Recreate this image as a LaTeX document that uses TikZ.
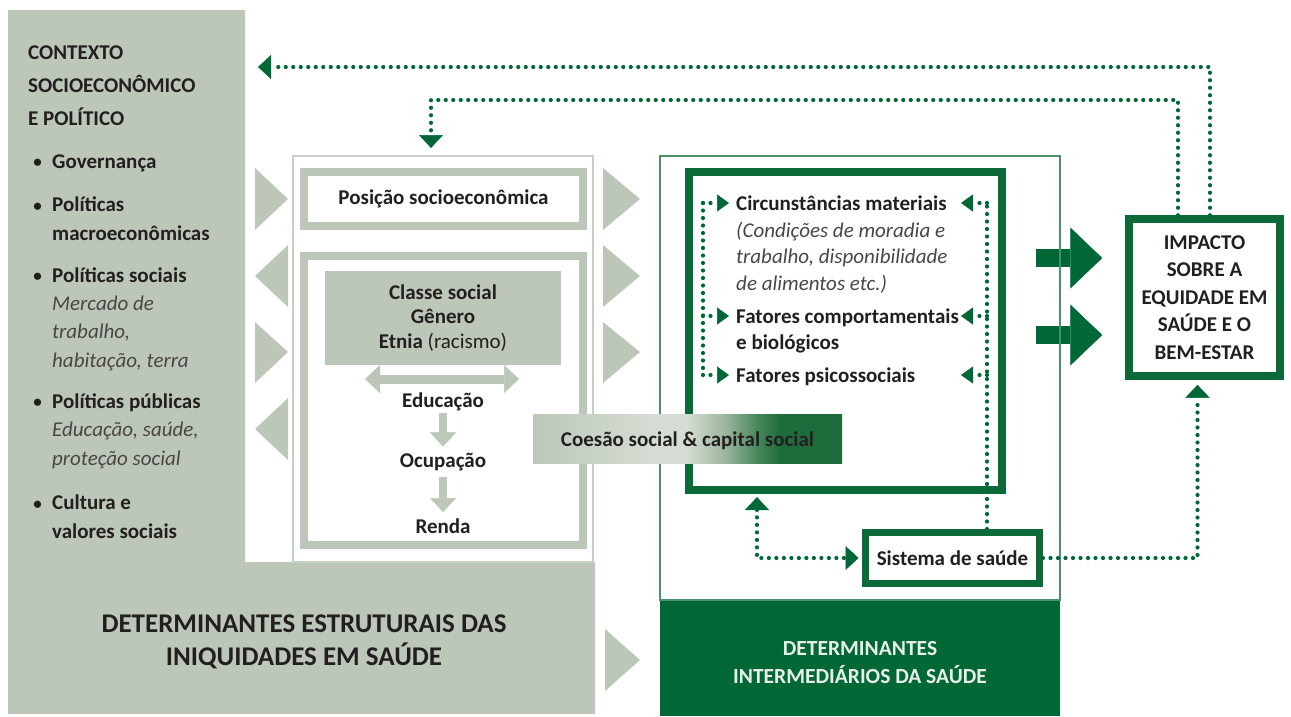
\documentclass[tikz,border=0pt]{standalone}
\usepackage{fontspec}
\setmainfont{Carlito}
\usetikzlibrary{calc, positioning, arrows.meta}
\definecolor{sage}{HTML}{BCC7B9}
\definecolor{sagelight}{HTML}{D5DCD3}
\definecolor{sageline}{HTML}{C6CFC3}
\definecolor{coemid}{HTML}{9DB59F}
\definecolor{coedark}{HTML}{4C8A5E}
\definecolor{coegreen}{HTML}{1E6C3C}
\definecolor{dkgreen}{HTML}{006837}
\definecolor{bdgreen}{HTML}{0C6A38}
\definecolor{thingreen}{HTML}{4A9068}
\definecolor{ink}{HTML}{231F20}
\definecolor{inkgrey}{HTML}{4A4646}
\definecolor{pale}{HTML}{E9EFE8}
\pgfdeclarehorizontalshading{coesao}{100bp}{color(0bp)=(sage); color(25bp)=(sage); color(44bp)=(sagelight); color(50bp)=(sagelight); color(56bp)=(coemid); color(61bp)=(coedark); color(65bp)=(coegreen); color(100bp)=(coegreen)}

\begin{document}
\begin{tikzpicture}
		[x=1pt, y=-1pt,
		txt/.style={inner sep=0pt, text=ink, align=left, font=\bfseries\fontsize{21}{28.5}\selectfont},
		note/.style={inner sep=0pt, text=inkgrey, align=left, font=\itshape\fontsize{21}{28.5}\selectfont},
		title/.style={inner sep=0pt, align=center, font=\bfseries\fontsize{21.5}{28}\selectfont},
		greybox/.style={draw=sage, line width=8pt, fill=white, inner sep=0pt},
		greenbox/.style={draw=bdgreen, line width=8pt, fill=white, inner sep=0pt},
		dots/.style={draw=dkgreen, line width=4.2pt, line cap=round, dash pattern=on 0pt off 7.5pt},
		tipB/.tip={Triangle[width=24pt, length=13pt, line width=0.5pt]},
		tipS/.tip={Triangle[width=17pt, length=12pt, line width=0.5pt]},
		greyarr/.style={draw=sage, line width=9pt},
		bigarr/.style={draw=dkgreen, line width=18pt, -{Triangle[width=61pt, length=32pt, line width=0.5pt]}}]
		\useasboundingbox (0,0) rectangle (1291,716);

		% background %
		\fill[sage] (8,10) -- (245,10) -- (245,562) -- (595,562) -- (595,714) -- (8,714) -- cycle;
		\fill[sage] (255,168) -- (288,199) -- (255,230) -- cycle;
		\fill[sage] (288,245) -- (255,276) -- (288,307) -- cycle;
		\fill[sage] (255,322) -- (288,352) -- (255,383) -- cycle;
		\fill[sage] (288,398) -- (255,429) -- (288,460) -- cycle;
		\fill[sage] (603,168) -- (640,199) -- (603,230) -- cycle;
		\fill[sage] (603,245) -- (640,276) -- (603,307) -- cycle;
		\fill[sage] (603,322) -- (640,352) -- (603,383) -- cycle;
		\fill[sage] (605,629) -- (640,660) -- (605,691) -- cycle;

		% left column (multi-line nodes sit on their last baseline) %
		\node[txt, anchor=base west, font=\bfseries\fontsize{21}{33}\selectfont] (ctx) at (28,125) {CONTEXTO\\SOCIOECONÔMICO\\E POLÍTICO};
		\node[txt, anchor=base west] (gov) at (52,168) {Governança};
		\node[txt, anchor=base west] (pmac) at (52,240) {Políticas\\macroeconômicas};
		\node[txt, anchor=base west] (psoc) at (52,282) {Políticas sociais};
		\node[note, anchor=base west] (psocn) at (52,367) {Mercado de\\trabalho,\\habitação, terra};
		\node[txt, anchor=base west] (ppub) at (52,408) {Políticas públicas};
		\node[note, anchor=base west] (ppubn) at (52,465) {Educação, saúde,\\proteção social};
		\node[txt, anchor=base west] (cult) at (52,538) {Cultura e\\valores sociais};
		\node[txt, anchor=base east, font=\bfseries\fontsize{17}{20}\selectfont] (b1) at (42,167) {•};
		\node[txt, anchor=base east, font=\bfseries\fontsize{17}{20}\selectfont] (b2) at (42,211) {•};
		\node[txt, anchor=base east, font=\bfseries\fontsize{17}{20}\selectfont] (b3) at (42,281) {•};
		\node[txt, anchor=base east, font=\bfseries\fontsize{17}{20}\selectfont] (b4) at (42,407) {•};
		\node[txt, anchor=base east, font=\bfseries\fontsize{17}{20}\selectfont] (b5) at (42,509) {•};
		\node[title, text=ink, font=\bfseries\fontsize{27}{33}\selectfont, anchor=base] (est) at (304,665) {DETERMINANTES ESTRUTURAIS DAS\\INIQUIDADES EM SAÚDE};

		% middle column %
		\node[draw=sageline, line width=2pt, minimum width=300pt, minimum height=406pt, inner sep=0pt] (mid) at (443,359) {};
		\node[greybox, txt, minimum width=279pt, minimum height=54pt] (pos) at (443.5,199) {Posição socioeconômica};
		\node[greybox, minimum width=279pt, minimum height=289pt] (str) at (443.5,400.5) {};
		\node[txt, fill=sage, align=center, minimum width=236pt, minimum height=94pt, font=\bfseries\fontsize{21}{24.5}\selectfont] (cls) at (443,318) {Classe social\\Gênero\\Etnia {\mdseries(racismo)}};
		\node[txt, anchor=base] (edu) at (443,407) {Educação};
		\node[txt, anchor=base] (ocu) at (443,467) {Ocupação};
		\node[txt, anchor=base] (ren) at (443,533) {Renda};
		\coordinate (dl) at (365,379);
		\coordinate (dr) at (519,379);

		% right column %
		\node[fill=dkgreen, minimum width=400pt, minimum height=117pt] (idet) at (860,657.5) {};
		\node[title, text=pale, anchor=base] (idetl) at (860,683) {DETERMINANTES\\INTERMEDIÁRIOS DA SAÚDE};
		\node[greenbox, minimum width=313pt, minimum height=318pt] (ib) at (845.5,331) {};
		\node[txt, anchor=base west] (circ) at (736,210) {Circunstâncias materiais};
		\node[note, anchor=base west, font=\itshape\fontsize{21}{26.5}\selectfont] (circn) at (736,290) {(Condições de moradia e\\trabalho, disponibilidade\\de alimentos etc.)};
		\node[txt, anchor=base west] (comp) at (736,323) {Fatores comportamentais};
		\node[txt, anchor=base west] (compb) at (736,349) {e biológicos};
		\node[txt, anchor=base west] (psi) at (736,382) {Fatores psicossociais};
		\node[greenbox, txt, line width=7pt, minimum width=174pt, minimum height=51pt] (sis) at (952.5,558) {Sistema de saúde};
		\node[greenbox, title, text=ink, line width=7.5pt, minimum width=151pt, minimum height=157pt, font=\bfseries\fontsize{21}{27.5}\selectfont] (imp) at (1204.5,297.5) {IMPACTO\\SOBRE A\\EQUIDADE EM\\SAÚDE E O\\BEM-ESTAR};

		\coordinate (t1) at ($(circ.base west)+(-7,-7)$);
		\coordinate (t2) at ($(comp.base west)+(-7,-7)$);
		\coordinate (t3) at ($(psi.base west)+(-7,-7)$);
		\coordinate (lx) at (703,0);
		\coordinate (ux) at (961,0);
		\coordinate (rx) at ([xshift=34.5pt]sis.north);
		\coordinate (ibl) at (757,497);
		\coordinate (h1) at ([yshift=39.5pt]imp.west);
		\coordinate (h2) at ([yshift=-37.5pt]imp.west);
		\coordinate (ctxin) at (258,67);
		\coordinate (bend) at (431,100);
		\coordinate (posin) at (431,148);

		% edges %
		\draw[greyarr, {Triangle[width=28pt, length=15pt, line width=0.5pt]}-{Triangle[width=28pt, length=15pt, line width=0.5pt]}] (dl) -- (dr);
		\draw[greyarr, line width=8pt, -{Triangle[width=26pt, length=14pt, line width=0.5pt]}, shorten <=2pt, shorten >=6pt] (edu.south) -- (ocu.north);
		\draw[greyarr, line width=8pt, -{Triangle[width=26pt, length=14pt, line width=0.5pt]}, shorten <=6pt, shorten >=6pt] (ocu.south) -- (ren.north);

		\draw[bigarr, shorten <=30pt, shorten >=23pt] (ib.east |- h1) -- (h1);
		\draw[bigarr, shorten <=30pt, shorten >=23pt] (ib.east |- h2) -- (h2);
		\node[draw=thingreen, line width=2pt, minimum width=400pt, minimum height=444pt] (rp) at (860,378) {};

		\draw[dots] (t1 -| lx) -- (t3 -| lx);
		\draw[dots, -tipS] (t1 -| lx) -- (t1);
		\draw[dots, -tipS] (t2 -| lx) -- (t2);
		\draw[dots, -tipS] (t3 -| lx) -- (t3);
		\draw[dots] (rx) -- (t1 -| rx);
		\draw[dots, -tipS] (t1 -| rx) -- (t1 -| ux);
		\draw[dots, -tipS] (t2 -| rx) -- (t2 -| ux);
		\draw[dots, -tipS] (t3 -| rx) -- (t3 -| ux);

		\draw[dots, tipB-tipB, shorten >=3.5pt] (ibl) |- (sis.west);
		\draw[dots, -tipB, shorten >=5pt] (sis.east) -| ([xshift=-7pt]imp.south);
		\draw[dots, -tipB] ([xshift=5.5pt]imp.north) |- (ctxin);
		\draw[dots, -tipB] ([xshift=-26.5pt]imp.north) |- (bend) -- (posin);

		\node[txt, shading=coesao, minimum width=309pt, minimum height=49pt, text height=15pt, text depth=0pt] (coe) at (687.5,439) {Coesão social \& capital social};
		\end{tikzpicture}
\end{document}
